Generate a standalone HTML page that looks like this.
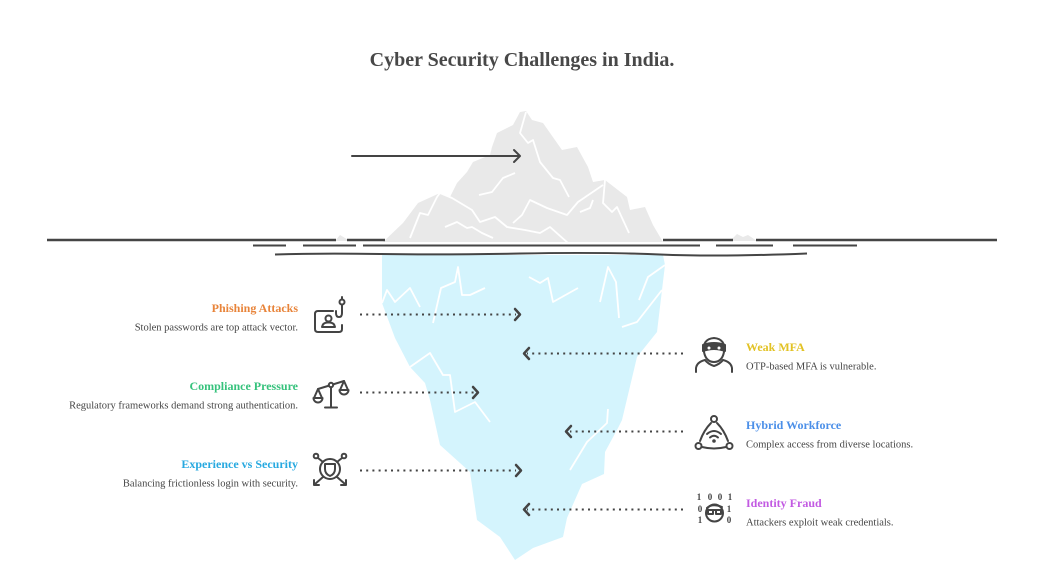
<!DOCTYPE html>
<html><head><meta charset="utf-8"><style>
html,body{margin:0;padding:0;background:#fff;}
svg{display:block;}
text{font-family:"Liberation Serif",serif;}
</style></head><body>
<svg width="1044" height="570" viewBox="0 0 1044 570" xmlns="http://www.w3.org/2000/svg">
<rect width="1044" height="570" fill="#fff"/>
<text x="522" y="66" text-anchor="middle" font-size="20" font-weight="bold" fill="#484848">Cyber Security Challenges in India.</text>

<!-- iceberg top -->
<polygon fill="#e9e9e9" points="383,242 403,223 418,203 440,193 450,197 457,183 467,172 473,162 490,155 492,147 497,133 513,125 520,112 526,111 532,120 543,123 562,150 577,147 588,167 593,182 605,180 627,197 630,210 645,207 653,225 663,242"/>
<g fill="none" stroke="#fff" stroke-width="1.8" stroke-linejoin="round">
<polyline points="526,112 520,133 528,143 533,140 540,162 553,178 560,180 569,197"/>
<polyline points="479,195 492,192 503,178 515,173"/>
<polyline points="410,238 420,213 428,215 437,197 440,193 452,198 472,210 480,222 495,217 507,227 525,230 540,233 550,227 568,243"/>
<polyline points="445,227 457,222 467,228 472,227 482,233 493,238"/>
<polyline points="513,223 522,215 530,200 547,208 567,215 578,202 603,185"/>
<polyline points="605,180 603,203 612,212 617,207 629,233"/>
<polyline points="580,212 590,208 593,200"/>
</g>
<!-- small ice bumps -->
<polygon fill="#e9e9e9" points="335,241 340,235 345,238 350,241"/>
<polygon fill="#e9e9e9" points="730,241 737,234 743,237 748,235 757,241"/>

<!-- iceberg underwater -->
<polygon fill="#d4f4fd" points="382,255 663,255 665,265 662,290 657,332 637,357 622,420 618,428 605,452 604,474 582,484 567,518 563,537 533,548 515,560 500,537 477,520 470,472 440,445 430,400 425,383 410,367 395,338 382,303"/>
<g fill="none" stroke="#fff" stroke-width="1.8" stroke-linejoin="round">
<polyline points="382,303 387,290 395,302 410,288 420,307"/>
<polyline points="433,323 441,288 455,282 458,267 462,295 470,295 485,288"/>
<polyline points="529,277 540,283 548,278 553,302 578,288"/>
<polyline points="600,302 608,267 616,282 619,318"/>
<polyline points="639,300 648,277 665,265"/>
<polyline points="622,327 637,322 662,290"/>
<polyline points="410,367 430,353 443,375 450,375 455,412 475,402 490,422"/>
<polyline points="608,409 607,423 587,442 570,470"/>
</g>

<!-- water lines -->
<g stroke="#454545" fill="none" stroke-linecap="butt">
<path d="M47 240 H336 M347 240 H385 M663 240 H733 M756 240 H997" stroke-width="2.5"/>
<path d="M253 245.5 H286 M303 245.5 H356 M363 245.5 H700 M716 245.5 H773 M793 245.5 H857" stroke-width="2"/>
<path d="M275 254.5 Q320 253 380 254 T520 253.5 T660 254.5 T807 253.5" stroke-width="2"/>
</g>

<!-- top arrow -->
<g stroke="#444" stroke-width="2" fill="none" stroke-linecap="round" stroke-linejoin="round">
<line x1="352" y1="156" x2="519" y2="156"/>
<polyline points="514,150 520,156 514,162"/>
</g>

<!-- dotted arrows -->
<g stroke="#444" stroke-width="2" fill="none">
<line x1="360" y1="314.5" x2="516" y2="314.5" stroke-dasharray="2 4.2"/>
<line x1="360" y1="392.5" x2="474" y2="392.5" stroke-dasharray="2 4.2"/>
<line x1="360" y1="470.5" x2="516" y2="470.5" stroke-dasharray="2 4.2"/>
<line x1="683" y1="353.5" x2="527" y2="353.5" stroke-dasharray="2 4.2"/>
<line x1="683" y1="431.5" x2="570" y2="431.5" stroke-dasharray="2 4.2"/>
<line x1="683" y1="509.5" x2="527" y2="509.5" stroke-dasharray="2 4.2"/>
</g>
<g stroke="#444" stroke-width="2.5" fill="none" stroke-linecap="round" stroke-linejoin="round">
<polyline points="515,309 520,314.5 515,320"/>
<polyline points="473,387 478,392.5 473,398"/>
<polyline points="516,465 521,470.5 516,476"/>
<polyline points="529,348 524,353.5 529,359"/>
<polyline points="571,426 566,431.5 571,437"/>
<polyline points="529,504 524,509.5 529,515"/>
</g>

<!-- left texts -->
<g text-anchor="end">
<text x="298" y="312" font-size="12" font-weight="bold" fill="#e8843a">Phishing Attacks</text>
<text x="298" y="330.5" font-size="10.5" fill="#454545">Stolen passwords are top attack vector.</text>
<text x="298" y="390" font-size="12" font-weight="bold" fill="#36c27c">Compliance Pressure</text>
<text x="298" y="408.5" font-size="10.5" fill="#454545">Regulatory frameworks demand strong authentication.</text>
<text x="298" y="468" font-size="12" font-weight="bold" fill="#27a9e0">Experience vs Security</text>
<text x="298" y="486.5" font-size="10.5" fill="#454545">Balancing frictionless login with security.</text>
</g>
<!-- right texts -->
<g>
<text x="746" y="351" font-size="12" font-weight="bold" fill="#e2c224">Weak MFA</text>
<text x="746" y="369.5" font-size="10.5" fill="#454545">OTP-based MFA is vulnerable.</text>
<text x="746" y="429" font-size="12" font-weight="bold" fill="#4b8fe8">Hybrid Workforce</text>
<text x="746" y="447.5" font-size="10.5" fill="#454545">Complex access from diverse locations.</text>
<text x="746" y="507" font-size="12" font-weight="bold" fill="#c25ae2">Identity Fraud</text>
<text x="746" y="525.5" font-size="10.5" fill="#454545">Attackers exploit weak credentials.</text>
</g>

<!-- icons -->
<g stroke="#444" stroke-width="2" fill="none" stroke-linecap="round" stroke-linejoin="round">
<!-- phishing -->
<path d="M333 311 H318 Q315 311 315 314 V329 Q315 332 318 332 H339 Q342 332 342 329 V325"/>
<circle cx="328.5" cy="318.5" r="3"/>
<path d="M322 327 Q323 322 328.5 322.5 Q334 322 335 327 Z"/>
<circle cx="342" cy="302" r="2.5"/>
<path d="M342 297 V299.5 M342 304.5 V313 Q342 317 339 317 Q336 317 336 313 V311"/>
<!-- scales -->
<line x1="331" y1="386" x2="331" y2="407"/>
<line x1="325" y1="407.5" x2="337" y2="407.5"/>
<line x1="318" y1="389" x2="344" y2="381"/>
<circle cx="331" cy="385" r="2.2" fill="#fff"/>
<path d="M318 389 L314 398 M318 389 L322 398 M313.5 398 H322.5 A4.5 4.5 0 0 1 313.5 398 Z"/>
<path d="M344 381 L340 390 M344 381 L348 390 M339.5 390 H348.5 A4.5 4.5 0 0 1 339.5 390 Z"/>
<!-- experience -->
<circle cx="330" cy="469" r="10"/>
<path d="M325 464 H335 V469 Q335 474 330 476 Q325 474 325 469 Z"/>
<circle cx="316" cy="456" r="2.3"/>
<circle cx="344" cy="456" r="2.3"/>
<path d="M318 458 L323 462 M342 458 L337 462"/>
<path d="M323 477 L315 484 M337 477 L345 484"/>
<path d="M314 480 V485 H319 M346 480 V485 H341"/>
<!-- weak mfa -->
<path d="M704 352 Q702 339 714 338 Q726 339 724 352 Q722 362 714 362 Q706 362 704 352 Z"/>
<path d="M703 345 Q714 341 725 345 V351 Q714 347 703 351 Z" fill="#444"/>
<circle cx="709" cy="348" r="1.5" fill="#fff" stroke="none"/>
<circle cx="719" cy="348" r="1.5" fill="#fff" stroke="none"/>
<path d="M696 372 V368 Q697 362 705 360 M732 372 V368 Q731 362 723 360"/>
<path d="M705 360 Q708 364 714 366 Q720 364 723 360"/>
<!-- hybrid -->
<circle cx="714" cy="419" r="3"/>
<circle cx="698.5" cy="446" r="3"/>
<circle cx="729.5" cy="446" r="3"/>
<path d="M711 423 Q704 430 700 441 M717 423 Q724 430 728 441"/>
<path d="M702 447 Q714 450 726 447"/>
<path d="M707 434 Q714 428 721 434 M710 437.5 Q714 434 718 437.5"/>
<circle cx="714" cy="441" r="0.8" fill="#444"/>
<!-- identity -->
<circle cx="714.5" cy="513" r="8.5"/>
<path d="M707 510 H722 M708 510 V514 H713 V510 M716 510 V514 H721 V510"/>
<path d="M707 508 Q712 503 722 507"/>
</g>
<g font-family="Liberation Mono, monospace" font-size="9" font-weight="bold" fill="#444" text-anchor="middle">
<text x="699" y="500">1</text><text x="710" y="500">0</text><text x="720" y="500">0</text><text x="730" y="500">1</text>
<text x="700" y="512">0</text><text x="729" y="512">1</text>
<text x="700" y="523">1</text><text x="729" y="523">0</text>
</g>
</svg>
</body></html>
